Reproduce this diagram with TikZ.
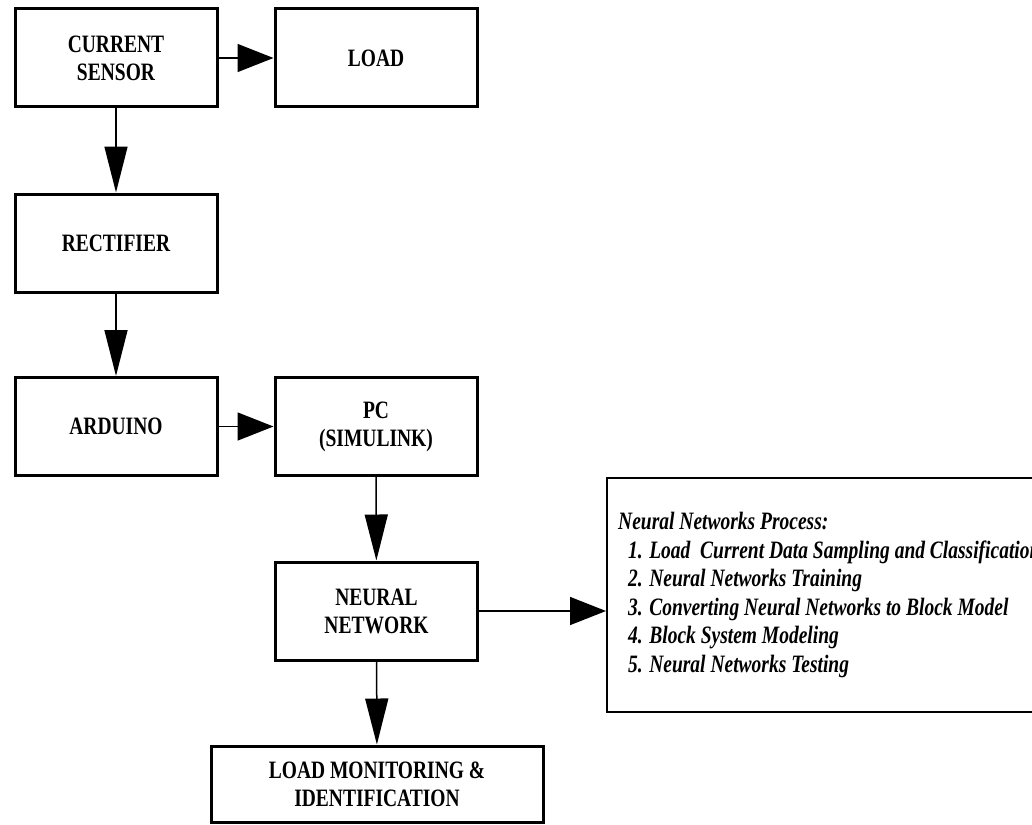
\documentclass[tikz,border=0pt]{standalone}
\usepackage{fontspec}
\setmainfont{Liberation Serif}[FakeStretch=0.78]
\usetikzlibrary{arrows.meta}

\begin{document}
\begin{tikzpicture}[
  x=0.5pt, y=-0.5pt,
  block/.style={draw, line width=1.5pt, minimum width=101pt, minimum height=49pt,
    inner sep=0pt, align=center, font=\fontsize{12.5}{14}\selectfont\bfseries},
  steps/.style={draw, line width=1.2pt, minimum height=117pt, inner xsep=5.5pt,
    align=left, anchor=west, font=\fontsize{12.5}{14.25}\selectfont\bfseries\itshape},
  harr/.style={line width=0.75pt, -{Triangle[length=18pt,width=14pt]}},
  varr/.style={line width=0.75pt, -{Triangle[length=23pt,width=11.5pt]}}
]
\useasboundingbox (0,0) rectangle (1032,824);

\node[block] (CS)   at (116,58)    {CURRENT\\SENSOR};
\node[block] (LOAD) at (376,58)    {LOAD};
\node[block] (RECT) at (116,243)   {RECTIFIER};
\node[block] (ARD)  at (116,426.5) {ARDUINO};
\node[block] (PC)   at (376,426.5) {PC\\(SIMULINK)};
\node[block] (NN)   at (376.5,611) {NEURAL\\NETWORK};
\node[block, minimum width=166pt, minimum height=38pt] (LMI) at (377,784)
  {LOAD MONITORING \&\\IDENTIFICATION};
\node[steps] (PROC) at (606,595) {Neural Networks Process:\\
  \hspace*{5pt}1. Load~~Current Data Sampling and Classification\\
  \hspace*{5pt}2. Neural Networks Training\\
  \hspace*{5pt}3. Converting Neural Networks to Block Model\\
  \hspace*{5pt}4. Block System Modeling\\
  \hspace*{5pt}5. Neural Networks Testing};

% Signal path
\draw[harr] (CS) -- (LOAD);
\draw[varr] (CS) -- (RECT);
\draw[varr] (RECT) -- (ARD);
\draw[harr] (ARD) -- (PC);
\draw[varr] (PC) -- (NN);
\draw[varr] (NN) -- (LMI);
\draw[harr] (NN.east) -- (NN.east -| PROC.west);
\end{tikzpicture}
\end{document}
